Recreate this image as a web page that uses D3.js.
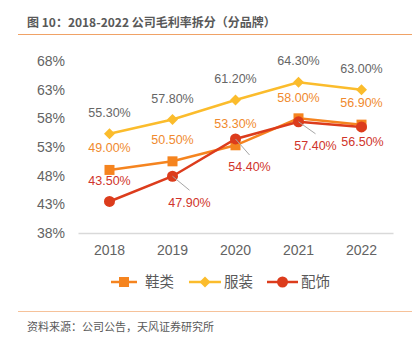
<!DOCTYPE html>
<html>
<head>
<meta charset="utf-8">
<script src="https://cdn.jsdelivr.net/npm/d3@7"></script>
<style>
  body { margin: 0; background: #fff; }
  svg { display: block; font-family: "Liberation Sans", Arial, "Noto Sans CJK SC", sans-serif; }
</style>
</head>
<body>
<svg id="chart" width="417" height="338"></svg>
<script>
const years = ['2018', '2019', '2020', '2021', '2022'];
const shoes = [49.0, 50.5, 53.3, 58.0, 56.9];       // 鞋类
const apparel = [55.3, 57.8, 61.2, 64.3, 63.0];     // 服装
const accessories = [43.5, 47.9, 54.4, 57.4, 56.5]; // 配饰
const yTicks = [38, 43, 48, 53, 58, 63, 68];

const cjk = '"Noto Sans CJK SC", "Liberation Sans", sans-serif';
const svg = d3.select('#chart');

// title + rules
svg.append('text')
    .attr('x', 27).attr('y', 27)
    .attr('fill', '#595959')
    .style('font-family', cjk)
    .style('font-size', '12px')
    .style('font-weight', 'bold')
    .text('图 10：2018-2022 公司毛利率拆分（分品牌）');
svg.append('line')
    .attr('x1', 18).attr('x2', 412).attr('y1', 34.5).attr('y2', 34.5)
    .attr('stroke', '#F0A266').attr('stroke-width', 1);
svg.append('line')
    .attr('x1', 18).attr('x2', 412).attr('y1', 311.5).attr('y2', 311.5)
    .attr('stroke', '#F6C29A').attr('stroke-width', 1);
svg.append('text')
    .attr('x', 27).attr('y', 331)
    .attr('fill', '#595959')
    .style('font-family', cjk)
    .style('font-size', '11px')
    .text('资料来源：公司公告，天风证券研究所');

const x = d3.scaleBand().domain(years).range([78, 393]);
const y = d3.scaleLinear().domain([38, 68]).range([233, 61]);
const cx = d => x(d) + x.bandwidth() / 2;

// axes
const yAxis = svg.append('g')
    .attr('transform', 'translate(78,0)')
    .call(d3.axisLeft(y).tickValues(yTicks).tickFormat(d => d + '%').tickSize(0).tickPadding(13));
yAxis.select('.domain').remove();
yAxis.selectAll('text').attr('fill', '#636363').style('font-size', '14px');

const xAxis = svg.append('g')
    .attr('transform', 'translate(0,233)')
    .call(d3.axisBottom(x).tickSize(0).tickPadding(12));
xAxis.select('.domain').attr('stroke', '#D9D9D9').attr('stroke-width', 1.5);
xAxis.selectAll('text').attr('fill', '#636363').style('font-size', '14px');

const series = [
    { name: '鞋类', values: shoes, color: '#F5841F', label: '#F08A2E', marker: 'square',
      off: [[0, -22], [0, -22], [0, -22], [0, -21], [0, -22]], lead: [] },
    { name: '服装', values: apparel, color: '#FBBC2C', label: '#666666', marker: 'diamond',
      off: [[0, -21], [0, -21], [0, -21], [0, -22], [0, -21]], lead: [] },
    { name: '配饰', values: accessories, color: '#DC3C1C', label: '#D0352B', marker: 'circle',
      off: [[0, -21], [17, 26], [14, 28], [17, 24], [1, 15]], lead: [1, 2, 3] }
];

const line = d3.line().x((d, i) => cx(years[i])).y(d => y(d));

function marker(g, type, color) {
    if (type === 'square') {
        g.append('rect').attr('x', -5).attr('y', -5).attr('width', 10).attr('height', 10).attr('fill', color);
    } else if (type === 'diamond') {
        g.append('path').attr('d', 'M0,-5.5L5.5,0L0,5.5L-5.5,0Z').attr('fill', color);
    } else {
        g.append('circle').attr('r', 5.5).attr('fill', color);
    }
}

series.forEach(s => {
    const g = svg.append('g');
    g.append('path')
        .attr('d', line(s.values))
        .attr('fill', 'none')
        .attr('stroke', s.color)
        .attr('stroke-width', 2.5);
    s.values.forEach((v, i) => {
        const m = g.append('g').attr('transform', `translate(${cx(years[i])},${y(v)})`);
        marker(m, s.marker, s.color);
    });
});

// data labels (drawn after all lines)
series.forEach(s => {
    s.values.forEach((v, i) => {
        const px = cx(years[i]), py = y(v);
        const [dx, dy] = s.off[i];
        if (s.lead.includes(i)) {
            svg.append('line')
                .attr('x1', px).attr('y1', py)
                .attr('x2', px + dx).attr('y2', py + dy - 12)
                .attr('stroke', '#A6A6A6').attr('stroke-width', 1);
        }
        svg.append('text')
            .attr('x', px + dx).attr('y', py + dy)
            .attr('dy', '0.35em')
            .attr('text-anchor', 'middle')
            .attr('fill', s.label)
            .style('font-size', '12.5px')
            .text(v.toFixed(2) + '%');
    });
});

// legend
const legend = [
    { s: series[0], x1: 111, x2: 137, tx: 145 },
    { s: series[1], x1: 189, x2: 221, tx: 224 },
    { s: series[2], x1: 267, x2: 298, tx: 301 }
];
legend.forEach(l => {
    const g = svg.append('g');
    g.append('line')
        .attr('x1', l.x1).attr('x2', l.x2).attr('y1', 282).attr('y2', 282)
        .attr('stroke', l.s.color).attr('stroke-width', 2.5);
    const m = g.append('g').attr('transform', `translate(${(l.x1 + l.x2) / 2},282)`);
    marker(m, l.s.marker, l.s.color);
    g.append('text')
        .attr('x', l.tx).attr('y', 282).attr('dy', '0.36em')
        .attr('fill', '#595959')
        .style('font-family', cjk)
        .style('font-size', '14.5px')
        .text(l.s.name);
});
</script>
</body>
</html>
